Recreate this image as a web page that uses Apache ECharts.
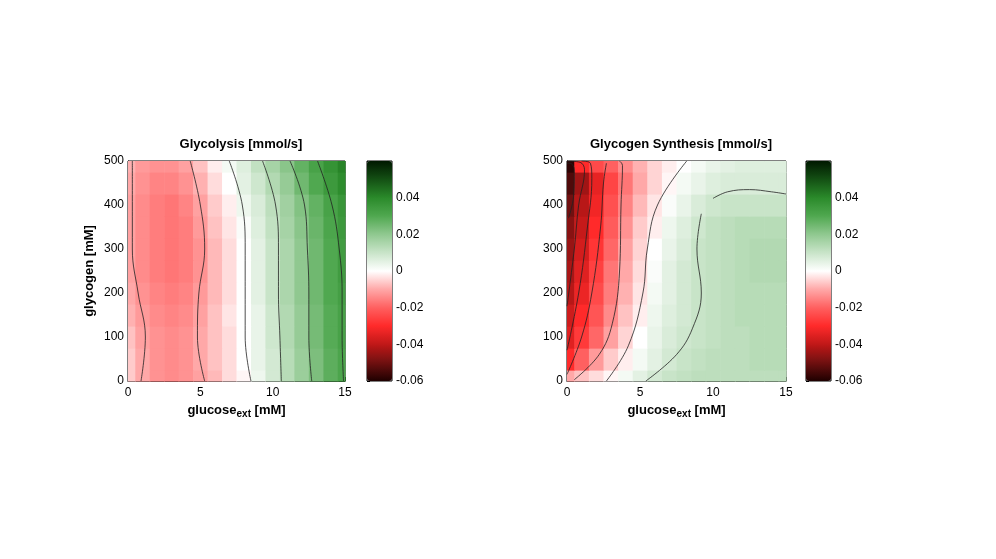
<!DOCTYPE html>
<html>
<head>
<meta charset="utf-8">
<title>Glycolysis / Glycogen synthesis</title>
<script src="https://cdn.jsdelivr.net/npm/echarts@6/dist/echarts.min.js"></script>
<style>
  html, body, #chart { width: 996px; height: 559px; margin: 0; background: #fff; }
</style>
</head>
<body>
<div id="chart"></div>
<script>
// grid nodes
var xs = [0,1,2,3,4,5,6,7,8,9,10,11,12,13,14,15];
var ys = [0,50,100,150,200,250,300,350,400,450,500];
var cbTicks = [-0.06,-0.04,-0.02,0,0.02,0.04];

// Glycolysis [mmol/s], one row per glycogen level (ys)
var glycolysis = [
  [-0.006,-0.010,-0.013,-0.014,-0.013,-0.011,-0.008,-0.004,-0.001,0.003,0.008,0.013,0.018,0.023,0.028,0.031],
  [-0.006,-0.010,-0.013,-0.014,-0.013,-0.010,-0.007,-0.004,0.000,0.004,0.008,0.013,0.018,0.023,0.028,0.031],
  [-0.007,-0.011,-0.013,-0.014,-0.013,-0.010,-0.007,-0.004,0.000,0.004,0.009,0.014,0.019,0.024,0.029,0.032],
  [-0.009,-0.012,-0.014,-0.015,-0.014,-0.011,-0.007,-0.003,0.000,0.004,0.009,0.014,0.019,0.024,0.029,0.032],
  [-0.010,-0.013,-0.015,-0.016,-0.015,-0.012,-0.008,-0.004,0.000,0.005,0.010,0.015,0.020,0.025,0.030,0.033],
  [-0.011,-0.014,-0.016,-0.017,-0.016,-0.013,-0.008,-0.004,0.000,0.005,0.010,0.015,0.020,0.025,0.030,0.034],
  [-0.011,-0.014,-0.016,-0.017,-0.016,-0.013,-0.008,-0.004,0.000,0.005,0.010,0.015,0.020,0.025,0.030,0.034],
  [-0.011,-0.014,-0.016,-0.017,-0.016,-0.012,-0.007,-0.003,0.001,0.006,0.011,0.016,0.021,0.026,0.031,0.035],
  [-0.011,-0.014,-0.016,-0.017,-0.015,-0.011,-0.006,-0.002,0.003,0.007,0.012,0.017,0.022,0.027,0.032,0.036],
  [-0.010,-0.013,-0.015,-0.015,-0.013,-0.009,-0.004,0.000,0.005,0.009,0.014,0.019,0.025,0.030,0.035,0.039],
  [-0.009,-0.012,-0.013,-0.013,-0.011,-0.007,-0.002,0.002,0.006,0.011,0.016,0.021,0.027,0.032,0.037,0.041]
];

// Glycogen synthesis [mmol/s]
var glycogenSynth = [
  [-0.010,-0.007,-0.004,-0.001,0.002,0.005,0.008,0.010,0.011,0.012,0.012,0.012,0.012,0.012,0.012,0.012],
  [-0.030,-0.020,-0.012,-0.006,-0.002,0.002,0.005,0.008,0.010,0.011,0.012,0.012,0.012,0.013,0.013,0.013],
  [-0.035,-0.027,-0.019,-0.011,-0.005,0.000,0.004,0.007,0.009,0.010,0.011,0.012,0.012,0.013,0.013,0.013],
  [-0.038,-0.030,-0.022,-0.014,-0.007,-0.002,0.003,0.006,0.008,0.010,0.011,0.012,0.013,0.013,0.013,0.013],
  [-0.041,-0.033,-0.024,-0.016,-0.009,-0.003,0.002,0.005,0.008,0.010,0.011,0.012,0.013,0.013,0.013,0.013],
  [-0.043,-0.035,-0.026,-0.017,-0.010,-0.004,0.001,0.005,0.008,0.010,0.011,0.012,0.013,0.014,0.014,0.014],
  [-0.045,-0.037,-0.028,-0.019,-0.011,-0.005,0.000,0.004,0.007,0.010,0.011,0.012,0.013,0.014,0.014,0.014],
  [-0.047,-0.039,-0.030,-0.021,-0.013,-0.006,-0.002,0.003,0.006,0.009,0.011,0.012,0.013,0.013,0.013,0.013],
  [-0.050,-0.041,-0.032,-0.023,-0.015,-0.008,-0.003,0.001,0.004,0.007,0.009,0.010,0.010,0.010,0.010,0.010],
  [-0.054,-0.044,-0.034,-0.025,-0.017,-0.010,-0.005,-0.001,0.002,0.004,0.006,0.007,0.007,0.007,0.007,0.007],
  [-0.058,-0.030,-0.024,-0.020,-0.014,-0.009,-0.005,-0.002,0.000,0.002,0.004,0.005,0.006,0.006,0.006,0.006]
];

// contour lines, [glucose, glycogen]
var glycContours = [
  [[0.9,0],[1.2,100],[0.7,200],[0.3,300],[0.3,400],[0.3,500]],
  [[5.3,0],[4.8,100],[4.9,200],[5.3,300],[5.0,400],[4.3,500]],
  [[8.5,0],[8.1,100],[8.1,200],[8.1,300],[7.9,400],[7.0,500]],
  [[10.6,0],[10.5,100],[10.4,200],[10.4,300],[10.2,400],[9.3,500]],
  [[12.7,0],[12.5,100],[12.5,200],[12.4,300],[12.2,400],[11.2,500]],
  [[14.9,0],[14.8,100],[14.8,200],[14.6,300],[14.1,400],[13.1,500]]
];
var synthContours = [
  [[0.1,370],[0.45,420],[0.5,480],[0.2,495],[0,495]],
  [[0,170],[0.5,300],[0.8,400],[1.2,480],[0.9,497],[0,500]],
  [[0,70],[0.8,200],[1.4,350],[1.7,460],[1.6,495],[1.0,500]],
  [[0,15],[1.0,100],[1.7,200],[2.3,350],[2.5,450],[2.7,495]],
  [[0.5,3],[2.2,60],[3.1,130],[3.6,250],[3.7,400],[3.8,490],[3.6,500]],
  [[2.7,0],[4.2,80],[5.2,200],[5.5,300],[6.2,400],[8.2,500]],
  [[5.4,0],[7.5,60],[8.6,120],[9.2,200],[8.9,300],[9.2,380]],
  [[10.0,415],[11.0,430],[12.5,435],[14.0,430],[15,425]]
];

function cells(rows) {
  var out = [];
  for (var j = 0; j < ys.length; j++)
    for (var i = 0; i < xs.length; i++) out.push([xs[i], ys[j], rows[j][i]]);
  return out;
}

var font = 'Liberation Sans, Arial, sans-serif';
var grids = [
  { left: 128, top: 161, width: 217, height: 220 },
  { left: 567, top: 161, width: 219, height: 220 },
  { left: 367, top: 161, width: 25, height: 220 },
  { left: 806, top: 161, width: 25, height: 220 }
];
grids.forEach(function (g) { g.show = true; g.borderColor = '#000'; g.borderWidth = 1; g.backgroundColor = 'transparent'; });

var xName = {
  name: '{a|glucose}{b|ext}{a| [mM]}', nameLocation: 'middle', nameGap: 20,
  nameTextStyle: { rich: { a: { fontSize: 13, fontWeight: 'bold', color: '#000', fontFamily: font },
    b: { fontSize: 10, fontWeight: 'bold', color: '#000', fontFamily: font, verticalAlign: 'bottom', padding: [8, 0, 0, 0] } } }
};
function xAxis(idx) {
  return Object.assign({
    type: 'value', gridIndex: idx, min: 0, max: 15, interval: 5,
    axisLine: { lineStyle: { color: '#000' } },
    axisTick: { inside: true, length: 4, lineStyle: { color: '#000' } },
    axisLabel: { color: '#000', fontSize: 12, fontFamily: font, margin: 6 },
    splitLine: { show: false }
  }, xName);
}
function yAxis(idx, name) {
  return {
    type: 'value', gridIndex: idx, min: 0, max: 500, interval: 100,
    name: name, nameLocation: 'middle', nameGap: 32,
    nameTextStyle: { fontSize: 13, fontWeight: 'bold', color: '#000', fontFamily: font },
    axisLine: { lineStyle: { color: '#000' } },
    axisTick: { inside: true, length: 4, lineStyle: { color: '#000' } },
    axisLabel: { color: '#000', fontSize: 12, fontFamily: font, margin: 4 },
    splitLine: { show: false }
  };
}
function cbY(idx) {
  return {
    type: 'value', gridIndex: idx, position: 'right', min: -0.06, max: 0.06, interval: 0.01,
    axisLine: { show: false },
    axisTick: { inside: false, length: 3, lineStyle: { color: '#000' } },
    axisLabel: { color: '#000', fontSize: 12, fontFamily: font, margin: 4,
      formatter: function (v) {
        var r = Math.round(v * 100) / 100;
        return cbTicks.indexOf(r) >= 0 ? String(r) : '';
      } },
    splitLine: { show: false }
  };
}
function cbX(idx) {
  return { type: 'value', gridIndex: idx, show: false, min: 0, max: 1 };
}

function heat(xi, rows) {
  return {
    type: 'custom', xAxisIndex: xi, yAxisIndex: xi, data: cells(rows), silent: true,
    renderItem: function (params, api) {
      var x = api.value(0), y = api.value(1);
      var p0 = api.coord([Math.max(0, x - 0.5), Math.min(500, y + 25)]);
      var p1 = api.coord([Math.min(15, x + 0.5), Math.max(0, y - 25)]);
      return { type: 'rect', shape: { x: p0[0], y: p0[1], width: p1[0] - p0[0] + 0.6, height: p1[1] - p0[1] + 0.6 },
        style: { fill: api.visual('color') } };
    },
    encode: { x: 0, y: 1 }
  };
}
function contours(xi, lines) {
  return lines.map(function (pts) {
    return { type: 'line', xAxisIndex: xi, yAxisIndex: xi, data: pts, smooth: 0.4, symbol: 'none', silent: true,
      lineStyle: { color: '#222', width: 0.8 }, z: 5 };
  });
}

var colors = ['#1e0000','#701010','#c01818','#ff2a2a','#ff6060','#ffa8a8','#ffffff',
              '#c8e4c8','#90c890','#50a850','#2a8a2a','#145014','#001800'];
function vm(si, left) {
  return { type: 'continuous', seriesIndex: si, dimension: 2, min: -0.06, max: 0.06,
    inRange: { color: colors }, left: left, top: 161, itemWidth: 25, itemHeight: 220,
    calculable: false, text: ['', ''], padding: 0, showLabel: false, hoverLink: false };
}

var series = [heat(0, glycolysis), heat(1, glycogenSynth)]
  .concat(contours(0, glycContours)).concat(contours(1, synthContours));

var chart = echarts.init(document.getElementById('chart'));
chart.setOption({
  animation: false,
  title: [
    { text: 'Glycolysis [mmol/s]', left: 236, top: 133, textAlign: 'center',
      textStyle: { fontSize: 13, fontWeight: 'bold', color: '#000', fontFamily: font } },
    { text: 'Glycogen Synthesis [mmol/s]', left: 676, top: 133, textAlign: 'center',
      textStyle: { fontSize: 13, fontWeight: 'bold', color: '#000', fontFamily: font } }
  ],
  grid: grids,
  xAxis: [xAxis(0), xAxis(1), cbX(2), cbX(3)],
  yAxis: [yAxis(0, 'glycogen [mM]'), yAxis(1, ''), cbY(2), cbY(3)],
  visualMap: [vm(0, 367), vm(1, 806)],
  series: series
});
</script>
</body>
</html>
